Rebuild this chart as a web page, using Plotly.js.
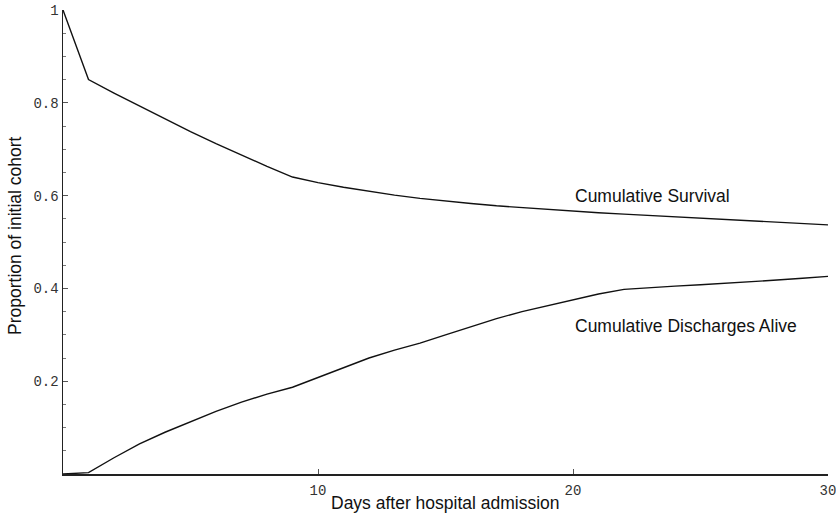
<!DOCTYPE html>
<html>
<head>
<meta charset="utf-8">
<script src="https://cdn.plot.ly/plotly-3.0.1.min.js"></script>
<style>html,body{margin:0;padding:0;background:#fff;}#chart{width:836px;height:513px;}</style>
</head>
<body>
<div id="chart"></div>
<script>
const days = [0,1,2,3,4,5,6,7,8,9,10,11,12,13,14,15,16,17,18,19,20,21,22,23,24,25,26,27,28,29,30];
const survival = [1,0.85,0.821,0.793,0.765,0.738,0.712,0.687,0.663,0.64,0.628,0.618,0.609,0.601,0.594,0.588,0.583,0.578,0.574,0.57,0.567,0.563,0.56,0.557,0.554,0.551,0.548,0.545,0.542,0.539,0.537];
const discharges = [0,0.003,0.035,0.065,0.09,0.113,0.135,0.155,0.172,0.187,0.208,0.23,0.25,0.267,0.282,0.3,0.318,0.335,0.35,0.363,0.376,0.388,0.398,0.402,0.405,0.408,0.411,0.414,0.418,0.422,0.426];
const xTicks = [10,20,30];
const xTickText = ["10","20","30"];
const yTicks = [0.2,0.4,0.6,0.8,1];
const yTickText = ["0.2","0.4","0.6","0.8","1"];
const seriesNames = ["Cumulative Survival","Cumulative Discharges Alive"];
const labelPos = [{x:20.0,y:0.6},{x:20.0,y:0.32}];

const traces = [
  {x: days, y: survival, name: seriesNames[0], mode: 'lines', line: {color: '#111', width: 1.4}},
  {x: days, y: discharges, name: seriesNames[1], mode: 'lines', line: {color: '#111', width: 1.4}}
];
const tickFont = {family: 'Liberation Mono, Courier New, monospace', size: 14, color: '#333'};
const textFont = {family: 'Liberation Sans, Arial, sans-serif', size: 17.5, color: '#111'};
const layout = {
  width: 836, height: 513,
  margin: {l: 63, r: 8, t: 10, b: 39},
  paper_bgcolor: '#fff', plot_bgcolor: '#fff',
  showlegend: false,
  xaxis: {
    range: [0, 30], showgrid: false, zeroline: false,
    showline: true, linecolor: '#222', linewidth: 1.5,
    ticks: 'inside', ticklen: 5, tickcolor: '#555', tickwidth: 1,
    tickvals: xTicks, ticktext: xTickText, tickfont: tickFont,
    ticklabelstandoff: 3, ticklabeloverflow: 'allow'
  },
  yaxis: {
    range: [0, 1], showgrid: false, zeroline: false,
    showline: true, linecolor: '#222', linewidth: 1.5,
    ticks: 'inside', ticklen: 5, tickcolor: '#555', tickwidth: 1,
    tickvals: yTicks, ticktext: yTickText, tickfont: tickFont,
    ticklabeloverflow: 'allow',
    minor: {dtick: 0.05, tick0: 0, ticks: 'inside', ticklen: 3, tickcolor: '#777', tickwidth: 1}
  },
  annotations: [
    {text: 'Days after hospital admission', xref: 'paper', yref: 'paper', x: 0.5, y: 0, yshift: -29,
     showarrow: false, xanchor: 'center', yanchor: 'middle', font: textFont},
    {text: 'Proportion of initial cohort', xref: 'paper', yref: 'paper', x: 0, xshift: -48, y: 0.5, yshift: 6,
     showarrow: false, textangle: -90, xanchor: 'center', yanchor: 'middle', font: textFont},
    {text: seriesNames[0], x: labelPos[0].x, y: labelPos[0].y, xref: 'x', yref: 'y',
     showarrow: false, xanchor: 'left', yanchor: 'middle', font: textFont},
    {text: seriesNames[1], x: labelPos[1].x, y: labelPos[1].y, xref: 'x', yref: 'y',
     showarrow: false, xanchor: 'left', yanchor: 'middle', font: textFont}
  ]
};
Plotly.newPlot('chart', traces, layout, {displayModeBar: false, staticPlot: true});
</script>
</body>
</html>
